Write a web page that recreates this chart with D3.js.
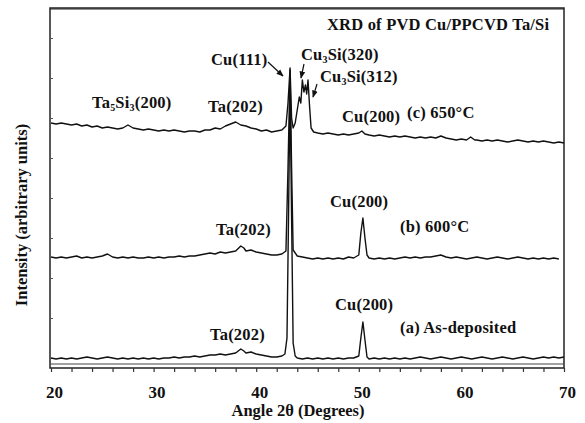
<!DOCTYPE html>
<html><head><meta charset="utf-8">
<script src="https://cdn.jsdelivr.net/npm/d3@7"></script>
<style>
html,body{margin:0;padding:0;background:#fff;}
svg text{font-family:"Liberation Serif","Times New Roman",serif;font-weight:bold;fill:#111;}
</style></head>
<body><svg id="c" width="585" height="423"></svg>
<script>
// ---- data (intensity, arbitrary units, offset per trace) ----
const angleA = [20,20.5,21,21.5,22,22.5,23,23.5,24,24.5,25,25.5,26,26.5,27,27.5,28,28.5,29,29.5,30,30.5,31,31.5,32,32.5,33,33.5,34,34.5,35,35.5,36,36.5,37,37.5,38,38.5,38.8,39,39.5,40,40.5,41,41.5,42,42.5,42.8,43,43.15,43.3,43.45,43.6,43.8,44,44.5,45,45.5,46,46.5,47,47.5,48,48.5,49,49.5,50,50.2,50.4,50.6,50.8,51,51.5,52,52.5,53,53.5,54,54.5,55,55.5,56,56.5,57,57.5,58,58.5,59,59.5,60,60.5,61,61.5,62,62.5,63,63.5,64,64.5,65,65.5,66,66.5,67,67.5,68,68.5,69,69.5,70];
const intensityA = [10,9,10,9,10,9,10,11,10,9,10,11,10,9,10,9,10,9,10,9,10,9,10,10,11,10,11,11,12,11,12,13,13,14,13,14,15,19,17,15,16,14,13,12,11,11,12,14,30,150,283,150,25,12,10,9,10,9,10,9,10,9,10,9,10,10,12,30,46,28,11,9,10,9,10,9,10,9,10,9,10,11,10,9,10,11,10,9,10,11,10,9,10,11,10,9,10,11,10,9,10,11,10,9,10,11,10,11,10,11];

const angleB = [20,20.5,21,21.5,22,22.5,23,23.5,24,24.5,25,25.5,26,26.5,27,27.5,28,28.5,29,29.5,30,30.5,31,31.5,32,32.5,33,33.5,34,34.5,35,35.5,36,36.5,37,37.5,38,38.5,38.8,39,39.5,40,40.5,41,41.5,42,42.5,42.9,43.1,43.3,43.45,43.6,44,44.5,45,45.5,46,46.5,47,47.5,48,48.5,49,49.5,50,50.2,50.4,50.6,50.8,51,51.5,52,52.5,53,53.5,54,54.5,55,55.5,56,56.5,57,57.5,58,58.5,59,59.5,60,60.5,61,61.5,62,62.5,63,63.5,64,64.5,65,65.5,66,66.5,67,67.5,68,68.5,69,69.5,70];
const intensityB = [111,110,111,110,111,112,110,111,110,111,112,114,111,110,111,110,111,110,110,111,110,111,110,111,111,112,111,112,112,113,114,115,114,116,115,116,117,122,120,117,118,116,115,114,113,113,114,117,200,298,200,118,112,111,110,109,110,109,110,109,110,109,111,110,113,135,150,130,113,110,109,110,109,110,109,110,111,110,111,110,111,111,112,113,111,110,111,110,109,110,111,110,109,110,111,110,109,110,111,110,109,110,109,110,109,110,109];

const angleC = [20,20.5,21,21.5,22,22.5,23,23.5,24,24.5,25,25.5,26,26.5,27,27.5,28,28.5,29,29.5,30,30.5,31,31.5,32,32.5,33,33.5,34,34.5,35,35.5,36,36.5,37,37.5,38,38.5,39,39.5,40,40.5,41,41.5,42,42.5,42.9,43.1,43.3,43.45,43.6,43.8,44,44.2,44.35,44.5,44.65,44.8,44.92,45.05,45.2,45.35,45.6,46,46.5,47,47.5,48,48.5,49,49.5,50,50.3,50.6,51,51.5,52,52.5,53,53.5,54,54.5,55,55.5,56,56.5,57,57.5,58,58.5,59,59.5,60,60.5,60.9,61.3,61.5,62,62.5,63,63.5,64,64.5,65,65.5,66,66.5,67,67.5,68,68.5,69,69.5,70];
const intensityC = [245,244,245,244,243,244,242,243,241,242,240,241,240,239,240,243,240,239,238,239,238,237,238,237,238,237,236,237,237,236,238,238,240,239,242,244,246,243,242,240,239,237,238,236,237,238,242,265,300,250,240,245,258,271,265,288,276,283,274,288,262,240,236,235,234,235,234,233,234,233,234,235,237,234,233,232,233,232,231,232,231,232,231,230,231,230,231,230,232,230,229,228,229,228,231,228,228,227,228,227,228,227,226,227,228,227,226,227,226,227,226,225,226,225];

const xTicks = [20,30,40,50,60,70];
const xMinorTicks = [20,22,24,26,28,30,32,34,36,38,40,42,44,46,48,50,52,54,56,58,60,62,64,66,68,70];
const yTicks = [10,50,90,130,170,210,250,290,330];

const labels = [
  {t:"XRD of PVD Cu/PPCVD Ta/Si", x:327, y:30},
  {t:"Cu(111)", x:211, y:65},
  {t:"Cu|3|Si(320)", x:301, y:60},
  {t:"Cu|3|Si(312)", x:320, y:82},
  {t:"Ta|5|Si|3|(200)", x:92, y:108},
  {t:"Ta(202)", x:208, y:112},
  {t:"Cu(200)", x:342, y:122},
  {t:"(c) 650°C", x:407, y:118},
  {t:"Cu(200)", x:330, y:207},
  {t:"(b) 600°C", x:400, y:232},
  {t:"Ta(202)", x:216, y:235},
  {t:"Cu(200)", x:335, y:310},
  {t:"(a) As-deposited", x:400, y:333},
  {t:"Ta(202)", x:210, y:340}
];
const arrows = [
  {x1:268,y1:62,x2:283,y2:76},
  {x1:304,y1:64,x2:301,y2:78},
  {x1:317,y1:84,x2:313,y2:97}
];

// ---- drawing ----
const svg = d3.select("#c");
const L=50, R=564, T=8, B=368;
const x = d3.scaleLinear().domain([20,70]).range([51,564]);
const y = d3.scaleLinear().domain([0,360]).range([B,T]);

svg.append("defs").append("marker").attr("id","ah").attr("viewBox","0 0 10 10")
  .attr("refX",9).attr("refY",5).attr("markerWidth",6).attr("markerHeight",6).attr("orient","auto")
  .append("path").attr("d","M0,1L10,5L0,9Z").attr("fill","#111");

// frame
svg.append("rect").attr("x",L).attr("y",T).attr("width",R-L).attr("height",B-T)
  .attr("fill","none").attr("stroke","#222").attr("stroke-width",1.5);
svg.append("line").attr("x1",L).attr("x2",R).attr("y1",B-4).attr("y2",B-4).attr("stroke","#444").attr("stroke-width",1);
svg.append("line").attr("x1",L).attr("x2",R).attr("y1",T+1).attr("y2",T+1).attr("stroke","#222").attr("stroke-width",1);

// x axis ticks
const gx = svg.append("g").attr("transform",`translate(0,${B})`)
  .call(d3.axisBottom(x).tickValues(xMinorTicks).tickSize(4).tickFormat(""));
gx.select(".domain").remove();
gx.selectAll("line").attr("stroke","#333").attr("stroke-width",1.2);
const gxl = svg.append("g").attr("transform",`translate(3,${B})`)
  .call(d3.axisBottom(x).tickValues(xTicks).tickSize(0).tickPadding(18).tickFormat(d3.format("d")));
gxl.select(".domain").remove();
gxl.selectAll("text").attr("font-size",17).attr("font-family","Liberation Serif").attr("font-weight","bold").attr("fill","#111");

// y ticks (inward)
const gy = svg.append("g").attr("transform",`translate(${L},0)`)
  .call(d3.axisRight(y).tickValues(yTicks).tickSize(3).tickFormat(""));
gy.select(".domain").remove();
gy.selectAll("line").attr("stroke","#555");

// traces
const line = d3.line().x(d=>x(d[0])).y(d=>y(d[1]));
[[angleA,intensityA],[angleB,intensityB],[angleC,intensityC]].forEach(([a,v])=>{
  svg.append("path").datum(a.map((d,i)=>[d,v[i]]))
    .attr("d",line).attr("fill","none").attr("stroke","#111").attr("stroke-width",1.4)
    .attr("stroke-linejoin","round");
});

// labels
labels.forEach(l=>{
  const t = svg.append("text").attr("x",l.x).attr("y",l.y).attr("font-size",16.5).attr("letter-spacing",0.2);
  l.t.split("|").forEach((s,i)=>{
    if(i%2===1) t.append("tspan").attr("font-size",10).attr("dy",3).text(s);
    else t.append("tspan").attr("dy", i>0?-3:0).text(s);
  });
});
arrows.forEach(a=>{
  svg.append("line").attr("x1",a.x1).attr("y1",a.y1).attr("x2",a.x2).attr("y2",a.y2)
    .attr("stroke","#111").attr("stroke-width",1.2).attr("marker-end","url(#ah)");
});

// axis titles
svg.append("text").attr("x",298).attr("y",416).attr("text-anchor","middle").attr("font-size",16.5).text("Angle 2θ (Degrees)");
svg.append("text").attr("transform","translate(27,215) rotate(-90)").attr("text-anchor","middle").attr("font-size",16.5).text("Intensity (arbitrary units)");
</script></body></html>
